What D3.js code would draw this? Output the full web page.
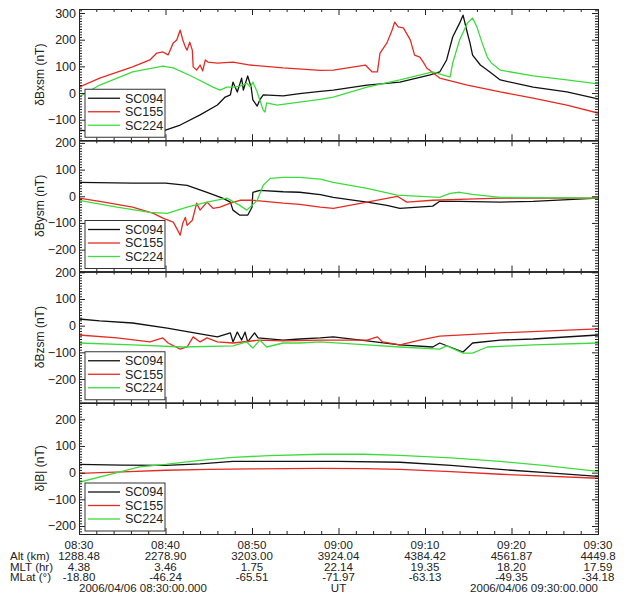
<!DOCTYPE html>
<html>
<head>
<meta charset="utf-8">
<script src="https://cdn.jsdelivr.net/npm/d3@7"></script>
<style>
  body { margin: 0; background: #fff; }
  svg { display: block; font-family: "Liberation Sans", Arial, sans-serif; }
</style>
</head>
<body>
<div id="chart"></div>
<script>
// spacecraft and panels
var sats = ['SC094', 'SC155', 'SC224'];
var satColors = ['#111111', '#e52a22', '#3ddc3d'];
var panelTitles = ['δBxsm (nT)', 'δBysm (nT)', 'δBzsm (nT)', 'δ|B| (nT)'];
var panelRanges = [[-177, 315], [-282, 210], [-289, 203], [-230, 262]];

// x axis: minutes after 08:30 UT
var timeLabels = ['08:30', '08:40', '08:50', '09:00', '09:10', '09:20', '09:30'];
var altKm = ['1288.48', '2278.90', '3203.00', '3924.04', '4384.42', '4561.87', '4449.8'];
var mltHr = ['4.38', '3.46', '1.75', '22.14', '19.35', '18.20', '17.59'];
var mlatDeg = ['-18.80', '-46.24', '-65.51', '-71.97', '-63.13', '-49.35', '-34.18'];

// [minute, nT]
var bx094 = [[0,-139],[2.4,-146],[6.2,-150],[9.4,-146],[11.7,-120],[14,-82],[16,-45],[16.9,-15],[17.5,-7],[17.8,41],[18.3,4],[18.8,56],[19,11],[19.5,64],[19.9,22],[20.1,-26],[20.6,-49],[20.9,-26],[21.3,-7],[23.6,-11],[25.5,-2],[27.9,6],[29.4,11],[33.3,30],[37.1,41],[40.6,68],[41.7,79],[42.5,124],[43.2,210],[44.0,262],[44.4,292],[44.9,225],[45.2,188],[45.5,142],[46.4,105],[47.5,79],[48.7,49],[52.5,22],[56.4,4],[60,-22]];
var bx155 = [[0,22],[2.4,56],[6.2,98],[8.2,124],[9,150],[9.7,154],[10.3,143],[10.9,188],[11.3,199],[11.7,236],[12,199],[12.3,172],[12.5,161],[12.8,191],[13.1,161],[13.2,98],[13.6,86],[14,105],[14.3,83],[14.6,124],[14.9,116],[16,112],[17.8,116],[19.8,105],[23.6,94],[27.9,85],[29.4,86],[33.1,105],[33.9,79],[34.5,79],[34.8,150],[35.6,188],[36.2,236],[36.5,266],[36.9,248],[37.5,244],[38.3,199],[38.8,142],[39.4,135],[39.8,116],[40.2,94],[41.7,56],[44.9,30],[48.7,4],[52.5,-19],[56.4,-45],[60,-75]];
var bx224 = [[0,-15],[2.4,30],[6.2,79],[9.7,101],[10.9,94],[13.2,60],[15.5,22],[16.3,11],[17.1,22],[17.8,22],[18.6,26],[19.4,37],[19.8,22],[20.1,41],[20.6,4],[20.9,-26],[21.3,-64],[21.5,-71],[21.7,-37],[22.9,-45],[25.5,-34],[27.9,-24],[29.4,-15],[33.3,22],[37.1,49],[40.9,79],[42.9,60],[43.2,112],[44,199],[44.9,262],[45.5,281],[46,248],[46.6,188],[47.2,135],[47.7,112],[48.7,86],[52.5,64],[56.4,49],[60,34]];

var by094 = [[0,52],[6.2,49],[10,49],[12.5,41],[14.8,15],[16.6,-7],[17.5,-22],[17.8,-52],[18.6,-71],[19.5,-71],[20,-41],[20.1,15],[20.9,22],[23.6,17],[25.5,15],[27.9,6],[29.4,-4],[33.3,-22],[35.6,-34],[37.1,-45],[40.9,-37],[41.7,-19],[44,-19],[48.7,-22],[52.5,-19],[60,-7]];
var by155 = [[0,-7],[2.4,-19],[6.2,-41],[8.6,-64],[9.7,-82],[10.9,-97],[11.4,-127],[11.7,-146],[12,-101],[12.3,-79],[12.5,-109],[13.1,-90],[13.6,-26],[14,-52],[14.8,-22],[15.5,-45],[16.3,-41],[17.5,-26],[18.6,-15],[20.1,-15],[23.6,-26],[25.5,-30],[27.9,-41],[29.4,-45],[33.3,-22],[36.8,0],[37.9,-22],[40.9,-15],[44.9,-11],[48.7,-7],[60,-7]];
var by224 = [[0,-15],[4.4,-41],[8.2,-60],[10.2,-64],[12.5,-41],[14.8,-22],[17.1,-7],[18.6,-34],[19.4,-52],[20,-34],[20.6,-15],[21.3,41],[22.1,67],[23.6,71],[25.5,71],[27.9,64],[29.4,52],[33.3,30],[36.8,4],[41.7,-4],[42.9,11],[44,15],[45.5,7],[48.7,-4],[60,-7]];

var bz094 = [[0,25],[2.4,18],[6.2,10],[10.2,-9],[14,-31],[16,-42],[17.5,-27],[17.8,-61],[18.3,-24],[18.8,-54],[19.2,-24],[19.5,-61],[20.3,-27],[20.7,-46],[23.6,-54],[25.5,-50],[27.9,-46],[29.4,-42],[33.3,-57],[37.1,-72],[40.9,-80],[41.7,-65],[42.9,-80],[44.4,-99],[45.5,-65],[48.7,-54],[52.5,-50],[60,-35]];
var bz155 = [[0,-35],[4.4,-46],[8.2,-61],[9.7,-46],[10.3,-65],[11.7,-88],[12.5,-80],[13.2,-42],[14,-61],[14.8,-46],[16,-61],[17.8,-65],[20.9,-54],[23.6,-57],[27.9,-54],[33.3,-54],[34.5,-42],[35.1,-61],[37.1,-72],[39.4,-54],[41.7,-39],[48.7,-27],[60,-12]];
var bz224 = [[0,-65],[6.2,-72],[12,-80],[17.8,-76],[19.4,-61],[20.1,-84],[20.9,-54],[21.7,-80],[23.6,-65],[25.5,-65],[27.9,-61],[33.3,-72],[37.1,-80],[41.7,-88],[42.5,-76],[44.4,-103],[45.5,-103],[47.2,-80],[52.5,-72],[60,-65]];

var bt094 = [[0,31],[5,28],[10,27],[14,33],[17.8,42],[25,42],[30,42],[37.1,39],[43,27],[48.7,12],[54,0],[60,-14]];
var bt155 = [[0,-3],[5,3],[10,9],[15,12],[20,14],[27.9,16],[33,15],[37.1,12],[43,4],[48.7,-6],[54,-13],[60,-21]];
var bt224 = [[0,-36],[4.4,0],[7,22],[10,31],[14,46],[17.8,57],[22,64],[27.9,69],[33,69],[37.1,65],[43,55],[48.7,42],[54,26],[60,5]];

var panelSeries = [
	[bx094, bx155, bx224],
	[by094, by155, by224],
	[bz094, bz155, bz224],
	[bt094, bt155, bt224]
];

var width = 629, height = 602;
var plotL = 79, plotR = 598, plotT = 9, plotB = 534;
var panelH = (plotB - plotT) / panelSeries.length;

var svg = d3.select('#chart').append('svg')
	.attr('width', width)
	.attr('height', height);

var x = d3.scaleLinear().domain([0, 60]).range([plotL, plotR]);
var majorX = d3.range(0, 61, 10);
var minorX = d3.range(0, 61, 2).filter(function(d) { return d % 10 !== 0; });

function styleAxis(sel) {
	sel.selectAll('path,line').attr('stroke', '#222');
	sel.selectAll('text').attr('font-size', '12.5px').attr('fill', '#222');
}

panelSeries.forEach(function(series, p) {
	var y0 = plotT + p * panelH, y1 = y0 + panelH;
	var y = d3.scaleLinear().domain(panelRanges[p]).range([y1, y0]);
	var g = svg.append('g');

	var lo = Math.ceil(panelRanges[p][0] / 10) * 10;
	var all = d3.range(lo, panelRanges[p][1], 10);
	var majorY = all.filter(function(d) { return d % 100 === 0; });
	var minorY = all.filter(function(d) { return d % 100 !== 0; });

	// clipped data lines
	var clipId = 'clip' + p;
	svg.append('clipPath').attr('id', clipId)
		.append('rect').attr('x', plotL).attr('y', y0).attr('width', plotR - plotL).attr('height', panelH);

	var line = d3.line()
		.x(function(d) { return x(d[0]); })
		.y(function(d) { return y(d[1]); });

	g.append('g').attr('clip-path', 'url(#' + clipId + ')')
		.selectAll('path')
		.data(series)
		.enter()
		.append('path')
		.attr('d', line)
		.attr('fill', 'none')
		.attr('stroke', function(d, i) { return satColors[i]; })
		.attr('stroke-width', 1.3)
		.attr('stroke-linejoin', 'round');

	// axes (ticks point inward)
	g.append('g').attr('transform', 'translate(' + plotL + ',0)')
		.call(d3.axisLeft(y).tickValues(minorY).tickSize(-3).tickSizeOuter(0).tickFormat(''))
		.call(styleAxis);
	g.append('g').attr('transform', 'translate(' + plotL + ',0)')
		.call(d3.axisLeft(y).tickValues(majorY).tickSize(-6).tickSizeOuter(0).tickPadding(3).tickFormat(d3.format('d')))
		.call(styleAxis)
		.call(function(s) { s.select('.domain').remove(); });
	g.append('g').attr('transform', 'translate(' + plotR + ',0)')
		.call(d3.axisRight(y).tickValues(minorY).tickSize(-3).tickSizeOuter(0).tickFormat(''))
		.call(styleAxis);
	g.append('g').attr('transform', 'translate(' + plotR + ',0)')
		.call(d3.axisRight(y).tickValues(majorY).tickSize(-6).tickSizeOuter(0).tickFormat(''))
		.call(styleAxis);

	[[y0, d3.axisTop], [y1, d3.axisBottom]].forEach(function(a) {
		g.append('g').attr('transform', 'translate(0,' + a[0] + ')')
			.call(a[1](x).tickValues(minorX).tickSize(-3).tickSizeOuter(0).tickFormat(''))
			.call(styleAxis);
		g.append('g').attr('transform', 'translate(0,' + a[0] + ')')
			.call(a[1](x).tickValues(majorX).tickSize(-6).tickSizeOuter(0).tickFormat(''))
			.call(styleAxis);
	});

	// y title
	g.append('text')
		.attr('transform', 'translate(44,' + (y0 + panelH / 2) + ') rotate(-90)')
		.attr('text-anchor', 'middle')
		.attr('font-size', '12px')
		.attr('fill', '#222')
		.text(panelTitles[p]);

	// legend
	var lg = g.append('g').attr('transform', 'translate(' + (plotL + 6) + ',' + (y1 - 51) + ')');
	lg.append('rect')
		.attr('width', 80).attr('height', 48)
		.attr('fill', '#fff').attr('stroke', '#333').attr('stroke-width', 1);
	sats.forEach(function(s, i) {
		var ly = 9 + i * 13.5;
		lg.append('line')
			.attr('x1', 3).attr('x2', 35).attr('y1', ly).attr('y2', ly)
			.attr('stroke', satColors[i]).attr('stroke-width', 1.3);
		lg.append('text')
			.attr('x', 40).attr('y', ly + 4.3)
			.attr('font-size', '12.5px').attr('fill', '#222')
			.text(s);
	});
});

// ephemeris rows under the bottom axis
var rows = [
	{ label: '', values: timeLabels },
	{ label: 'Alt (km)', values: altKm },
	{ label: 'MLT (hr)', values: mltHr },
	{ label: 'MLat (°)', values: mlatDeg }
];
var info = svg.append('g').attr('font-size', '11.5px').attr('fill', '#222');
rows.forEach(function(r, i) {
	var ry = plotB + 15 + i * 10.8;
	info.append('text').attr('x', 10).attr('y', ry).text(r.label);
	info.selectAll(null)
		.data(r.values)
		.enter()
		.append('text')
		.attr('x', function(d, j) { return x(majorX[j]); })
		.attr('y', ry)
		.attr('text-anchor', 'middle')
		.text(function(d) { return d; });
});
var dateY = plotB + 15 + 4 * 10.8;
info.append('text').attr('x', plotL).attr('y', dateY).text('2006/04/06 08:30:00.000');
info.append('text').attr('x', x(30)).attr('y', dateY).attr('text-anchor', 'middle').text('UT');
info.append('text').attr('x', plotR).attr('y', dateY).attr('text-anchor', 'end').text('2006/04/06 09:30:00.000');
</script>
</body>
</html>
